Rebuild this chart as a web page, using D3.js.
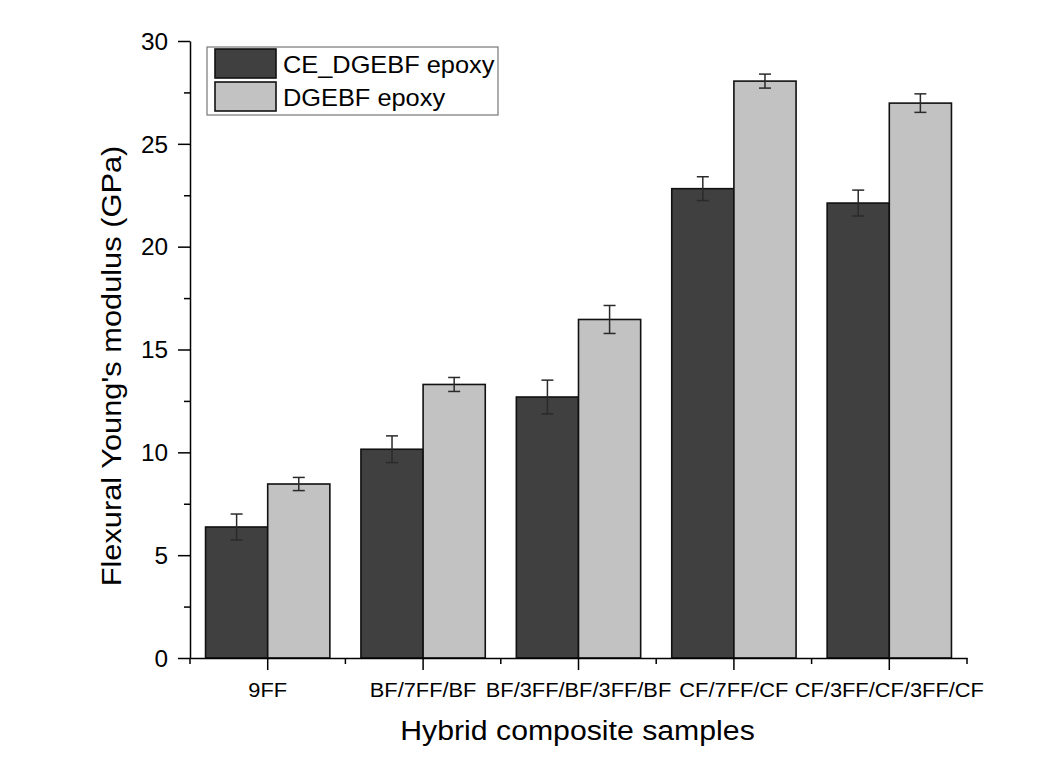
<!DOCTYPE html>
<html>
<head>
<meta charset="utf-8">
<script src="https://cdn.jsdelivr.net/npm/d3@7"></script>
<style>
  body { margin: 0; background: #fff; }
  text { font-family: "Liberation Sans", Arial, sans-serif; fill: #000; }
</style>
</head>
<body>
<svg id="chart" width="1037" height="780"></svg>
<script>
// Flexural Young's modulus of hybrid composites, two matrix systems
const categories = ["9FF", "BF/7FF/BF", "BF/3FF/BF/3FF/BF", "CF/7FF/CF", "CF/3FF/CF/3FF/CF"];
const seriesNames = ["CE_DGEBF epoxy", "DGEBF epoxy"];
const ceValues = [6.37, 10.15, 12.69, 22.82, 22.12];
const ceErrors = [0.63, 0.65, 0.82, 0.58, 0.63];
const dgValues = [8.46, 13.30, 16.46, 28.05, 26.98];
const dgErrors = [0.32, 0.34, 0.68, 0.34, 0.45];
const yTicks = [0, 5, 10, 15, 20, 25, 30];
const yMinorTicks = [2.5, 7.5, 12.5, 17.5, 22.5, 27.5];
const seriesColors = ["#404040", "#c2c2c2"];

const series = [
  { name: seriesNames[0], values: ceValues, errors: ceErrors, color: seriesColors[0] },
  { name: seriesNames[1], values: dgValues, errors: dgErrors, color: seriesColors[1] }
];

const svg = d3.select("#chart");
const plot = { left: 190, right: 967, top: 41, bottom: 658 };
const stretch = 1.12; // horizontal glyph widening used by the labels

const x = d3.scaleBand().domain(categories).range([plot.left, plot.right]).padding(0);
const xs = d3.scaleBand().domain(seriesNames)
  .range([x.bandwidth() * 0.1, x.bandwidth() * 0.9]).padding(0);
const y = d3.scaleLinear().domain([0, 30]).range([plot.bottom, plot.top]);

// Bars
const groups = svg.append("g").selectAll("g")
  .data(categories)
  .join("g")
  .attr("transform", d => `translate(${x(d)},0)`);

series.forEach(s => {
  groups.append("rect")
    .attr("x", () => xs(s.name))
    .attr("y", (d, i) => y(s.values[i]))
    .attr("width", xs.bandwidth())
    .attr("height", (d, i) => y(0) - y(s.values[i]))
    .attr("fill", s.color)
    .attr("stroke", "#111")
    .attr("stroke-width", 1.6);
});

// Error bars
series.forEach(s => {
  const eb = groups.append("g")
    .attr("stroke", "#2a2a2a")
    .attr("stroke-width", 1.5);
  const cx = xs(s.name) + xs.bandwidth() / 2;
  eb.append("line")
    .attr("x1", cx).attr("x2", cx)
    .attr("y1", (d, i) => y(s.values[i] + s.errors[i]))
    .attr("y2", (d, i) => y(s.values[i] - s.errors[i]));
  eb.append("line")
    .attr("x1", cx - 6).attr("x2", cx + 6)
    .attr("y1", (d, i) => y(s.values[i] + s.errors[i]))
    .attr("y2", (d, i) => y(s.values[i] + s.errors[i]));
  eb.append("line")
    .attr("x1", cx - 6).attr("x2", cx + 6)
    .attr("y1", (d, i) => y(s.values[i] - s.errors[i]))
    .attr("y2", (d, i) => y(s.values[i] - s.errors[i]));
});

// Y axis: major ticks with labels, minor ticks between
const yAxis = svg.append("g")
  .attr("transform", `translate(${plot.left},0)`)
  .call(d3.axisLeft(y).tickValues(yTicks).tickSize(12).tickSizeOuter(0).tickPadding(10).tickFormat(d3.format("d")));
svg.append("g")
  .attr("transform", `translate(${plot.left},0)`)
  .call(d3.axisLeft(y).tickValues(yMinorTicks).tickSize(6).tickSizeOuter(0).tickFormat(""))
  .call(g => g.select(".domain").remove());

// X axis: major ticks at group centres, minor ticks at group boundaries
const xAxis = svg.append("g")
  .attr("transform", `translate(0,${plot.bottom})`)
  .call(d3.axisBottom(x).tickSize(12).tickSizeOuter(0).tickPadding(13));
const bounds = categories.map(c => x(c)).concat([plot.right]);
svg.append("g")
  .attr("stroke", "#000").attr("stroke-width", 1.5)
  .selectAll("line")
  .data(bounds)
  .join("line")
  .attr("x1", d => d).attr("x2", d => d)
  .attr("y1", plot.bottom).attr("y2", plot.bottom + 6);

svg.selectAll(".domain").attr("stroke", "#000").attr("stroke-width", 1.5);
svg.selectAll(".tick line").attr("stroke", "#000").attr("stroke-width", 1.5);

yAxis.selectAll(".tick text")
  .attr("font-size", 23)
  .attr("dy", "0.36em")
  .each(function () {
    const t = d3.select(this);
    const tx = +t.attr("x");
    t.attr("x", null).attr("transform", `translate(${tx},0) scale(1.06,1)`);
  });
xAxis.selectAll(".tick text")
  .attr("font-size", 19.5)
  .attr("dy", "0.71em")
  .attr("transform", `scale(${stretch},1)`)
  .attr("x", 0);

// Axis titles
svg.append("text")
  .attr("transform", `translate(${(plot.left + plot.right) / 2 - 1},740) scale(${stretch},1)`)
  .attr("text-anchor", "middle")
  .attr("font-size", 27)
  .text("Hybrid composite samples");

svg.append("text")
  .attr("transform", `translate(121,366) rotate(-90) scale(${stretch},1)`)
  .attr("text-anchor", "middle")
  .attr("font-size", 27.5)
  .text("Flexural Young's modulus (GPa)");

// Legend
const legend = svg.append("g").attr("transform", "translate(207,47)");
legend.append("rect")
  .attr("width", 291).attr("height", 68)
  .attr("fill", "#fff").attr("stroke", "#777").attr("stroke-width", 1.2);
series.forEach((s, i) => {
  const row = legend.append("g").attr("transform", `translate(8,${2 + i * 33})`);
  row.append("rect")
    .attr("width", 61).attr("height", 29)
    .attr("fill", s.color).attr("stroke", "#111").attr("stroke-width", 1.6);
  row.append("text")
    .attr("transform", "translate(68,24) scale(1.08,1)")
    .attr("font-size", 23.5)
    .text(s.name);
});
</script>
</body>
</html>
